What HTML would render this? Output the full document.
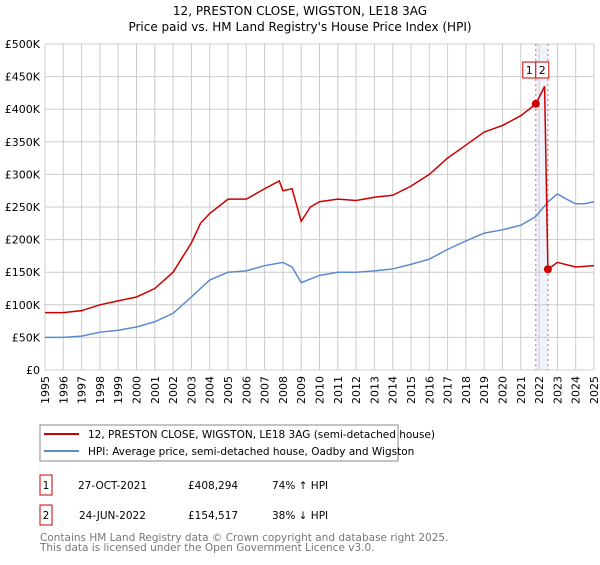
<!DOCTYPE html>
<html><head><meta charset="utf-8"><style>
body{margin:0;background:#fff;font-family:"Liberation Sans","DejaVu Sans",sans-serif;}
svg text{font-family:"DejaVu Sans","Liberation Sans",sans-serif;}
</style></head><body>
<svg width="600" height="560" id="c">
<text x="300" y="15" text-anchor="middle" font-size="12">12, PRESTON CLOSE, WIGSTON, LE18 3AG</text>
<text x="300" y="31" text-anchor="middle" font-size="12">Price paid vs. HM Land Registry's House Price Index (HPI)</text>
<g id="grid"></g><g id="lines"></g><g id="axes"></g>
<rect x="40" y="425" width="358" height="36" fill="#fff" stroke="#888"/>
<line x1="44" y1="434" x2="79" y2="434" stroke="#cc0000" stroke-width="2"/>
<text x="88" y="438" font-size="10.5">12, PRESTON CLOSE, WIGSTON, LE18 3AG (semi-detached house)</text>
<line x1="44" y1="451" x2="79" y2="451" stroke="#5b8bd0" stroke-width="2"/>
<text x="88" y="455" font-size="10.5">HPI: Average price, semi-detached house, Oadby and Wigston</text>
<g font-size="10.5">
<rect x="40" y="475" width="12" height="20" fill="#fff" stroke="#cc0000"/>
<text x="46" y="489" text-anchor="middle">1</text>
<text x="78" y="489">27-OCT-2021</text>
<text x="188" y="489">£408,294</text>
<text x="272" y="489">74% ↑ HPI</text>
<rect x="40" y="505" width="12" height="20" fill="#fff" stroke="#cc0000"/>
<text x="46" y="519" text-anchor="middle">2</text>
<text x="79" y="519">24-JUN-2022</text>
<text x="188" y="519">£154,517</text>
<text x="272" y="519">38% ↓ HPI</text>
</g>
<text x="40" y="541" font-size="10.5" fill="#777">Contains HM Land Registry data © Crown copyright and database right 2025.</text>
<text x="40" y="551" font-size="10.5" fill="#777">This data is licensed under the Open Government Licence v3.0.</text>
</svg>
<script>
const yearTicks=[1995,1996,1997,1998,1999,2000,2001,2002,2003,2004,2005,2006,2007,2008,2009,2010,2011,2012,2013,2014,2015,2016,2017,2018,2019,2020,2021,2022,2023,2024,2025];
const priceTicks=[0,50,100,150,200,250,300,350,400,450,500];
const priceTickLabels=["£0","£50K","£100K","£150K","£200K","£250K","£300K","£350K","£400K","£450K","£500K"];
const hpiYears=[1995,1996,1997,1998,1999,2000,2001,2002,2003,2004,2005,2006,2007,2008,2008.5,2009,2010,2011,2012,2013,2014,2015,2016,2017,2018,2019,2020,2021,2021.8,2022.5,2023,2023.5,2024,2024.5,2025];
const hpiValues=[50,50,52,58,61,66,74,87,112,138,150,152,160,165,158,134,145,150,150,152,155,162,170,185,198,210,215,222,235,258,270,262,255,255,258];
const propYears=[1995,1996,1997,1998,1999,2000,2001,2002,2003,2003.5,2004,2005,2006,2007,2007.8,2008,2008.5,2009,2009.5,2010,2011,2012,2013,2014,2015,2016,2017,2018,2019,2020,2021,2021.82,2022.3,2022.48,2023,2024,2025];
const propValues=[88,88,91,100,106,112,125,150,195,225,240,262,262,278,290,275,278,228,250,258,262,260,265,268,282,300,325,345,365,375,390,408,435,154.5,165,158,160];
const saleYears=[2021.82,2022.48];
const saleValues=[408.294,154.517];
const saleLabels=["1","2"];
const X=y=>45+(y-1995)*18.3, Y=v=>370-v*0.652;
const NS="http://www.w3.org/2000/svg";
function mk(p,t,a){const e=document.createElementNS(NS,t);for(const k in a)e.setAttribute(k,a[k]);document.getElementById(p).appendChild(e);return e;}
const band=mk('grid','rect',{x:X(saleYears[0]),y:Y(500),width:X(saleYears[1])-X(saleYears[0]),height:Y(0)-Y(500),fill:'#eef3fc'});


yearTicks.forEach(yr=>{const l=mk('grid','line',{x1:X(yr),x2:X(yr),y1:Y(500),y2:Y(0),stroke:'#ccc'});


const t=mk('axes','text',{transform:`translate(${X(yr)+4},${Y(0)+6}) rotate(-90)`,'text-anchor':'end','font-size':'11'});t.textContent=yr;

});
priceTicks.forEach((v,i)=>{const l=mk('grid','line',{x1:X(1995),x2:X(2025),y1:Y(v),y2:Y(v),stroke:'#ccc'});


const t=mk('axes','text',{x:40,y:Y(v)+4,'text-anchor':'end','font-size':'11'});t.textContent=priceTickLabels[i];

});
saleYears.forEach((yr,i)=>{const l=mk('grid','line',{x1:X(yr),x2:X(yr),y1:Y(500),y2:Y(0),stroke:'#e06070','stroke-dasharray':'2,3'});

});
const hp=mk('lines','polyline',{points:hpiYears.map((y,i)=>X(y)+','+Y(hpiValues[i])).join(' '),fill:'none',stroke:'#5b8bd0','stroke-width':1.5});


const pp=mk('lines','polyline',{points:propYears.map((y,i)=>X(y)+','+Y(propValues[i])).join(' '),fill:'none',stroke:'#cc0000','stroke-width':1.5});


saleYears.forEach((yr,i)=>{const c=mk('lines','circle',{cx:X(yr),cy:Y(saleValues[i]),r:4,fill:'#cc0000'});


const bx=X(2021.82)-13+i*13;
const r=mk('lines','rect',{x:bx,y:62,width:13,height:16,fill:'#fff',stroke:'#cc0000'});


const t=mk('lines','text',{x:bx+6.5,y:74,'text-anchor':'middle','font-size':'11'});t.textContent=saleLabels[i];

});
</script>
</body></html>
